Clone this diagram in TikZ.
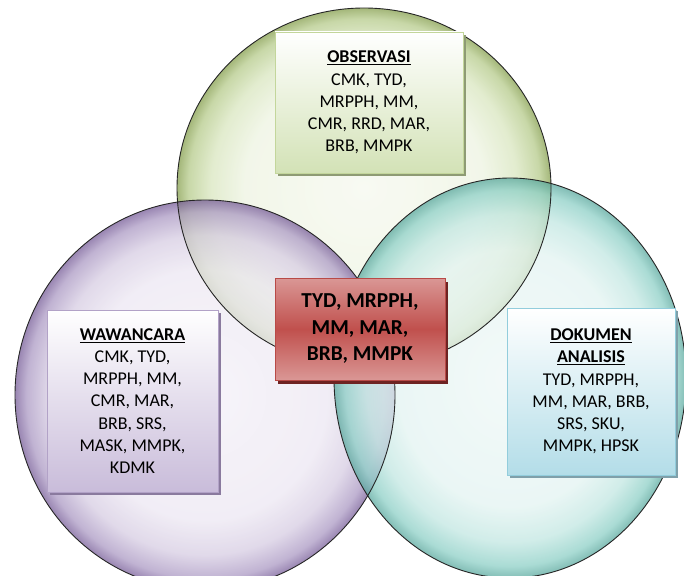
\documentclass[tikz,border=0pt]{standalone}
\usepackage{fontspec}
\setmainfont{Carlito}
\usetikzlibrary{shadows}
% circle colours
\definecolor{gc0}{HTML}{F6F9EF}
\definecolor{gc1}{HTML}{EEF4E2}
\definecolor{gc2}{HTML}{D9E6BF}
\definecolor{gc3}{HTML}{B6CB8B}
\definecolor{gc4}{HTML}{869F4E}
\definecolor{pc0}{HTML}{F4F1F8}
\definecolor{pc1}{HTML}{EDE8F3}
\definecolor{pc2}{HTML}{D7CDE3}
\definecolor{pc3}{HTML}{AC9AC4}
\definecolor{pc4}{HTML}{785E99}
\definecolor{tc0}{HTML}{EFF8F7}
\definecolor{tc1}{HTML}{E4F4F2}
\definecolor{tc2}{HTML}{C2E7E2}
\definecolor{tc3}{HTML}{8ED0C7}
\definecolor{tc4}{HTML}{5AA89E}
% box colours
\definecolor{obsbot}{HTML}{D3E2B6}
\definecolor{obsline}{HTML}{C3D69B}
\definecolor{obsshadow}{HTML}{8E9B74}
\definecolor{wawbot}{HTML}{C9BCDA}
\definecolor{wawline}{HTML}{B2A2C7}
\definecolor{wawshadow}{HTML}{8A7A9E}
\definecolor{dokbot}{HTML}{B3DDE8}
\definecolor{dokline}{HTML}{92CDDC}
\definecolor{dokshadow}{HTML}{7FA0AA}
\definecolor{redlight}{HTML}{DA9795}
\definecolor{reddark}{HTML}{C0504D}
\definecolor{redline}{HTML}{B84A47}
\definecolor{redshadow}{HTML}{6E2322}
\pgfdeclareradialshading{gshade}{\pgfpointorigin}{color(0bp)=(gc0); color(16bp)=(gc1); color(20.5bp)=(gc2); color(23.5bp)=(gc3); color(25bp)=(gc4); color(50bp)=(gc4)}
\pgfdeclareradialshading{pshade}{\pgfpointorigin}{color(0bp)=(pc0); color(16bp)=(pc1); color(20.5bp)=(pc2); color(23.5bp)=(pc3); color(25bp)=(pc4); color(50bp)=(pc4)}
\pgfdeclareradialshading{tshade}{\pgfpointorigin}{color(0bp)=(tc0); color(16bp)=(tc1); color(20.5bp)=(tc2); color(23.5bp)=(tc3); color(25bp)=(tc4); color(50bp)=(tc4)}
\tikzset{
  bubble/.style={fill opacity=0.75},
  rim/.style={draw=black!85, line width=0.9pt},
  listbox/.style={draw=#1line, line width=0.9pt, top color=white, bottom color=#1bot,
    general shadow={fill=#1shadow, shadow xshift=2.5pt, shadow yshift=-3pt},
    align=center, inner sep=0pt, font=\fontsize{18}{22.2}\selectfont},
  corebox/.style={draw=redline, line width=1pt, top color=redlight, bottom color=redlight,
    middle color=reddark,
    general shadow={fill=redshadow, shadow xshift=3pt, shadow yshift=-4pt},
    align=center, inner sep=0pt, font=\fontsize{21.3}{26.5}\selectfont\bfseries}
}
\begin{document}
\begin{tikzpicture}[x=1pt,y=-1pt]
\useasboundingbox (0,0) rectangle (684,575);
\clip (0,0) rectangle (684,575);
\fill[white] (0,0) rectangle (684,575);
% circles
\shade[shading=gshade, bubble] (364,188) ellipse [x radius=187pt, y radius=180pt];
\shade[shading=pshade, bubble] (205,395) ellipse [x radius=190pt, y radius=195pt];
\shade[shading=tshade, bubble] (510,378) ellipse [x radius=176pt, y radius=200pt];
\draw[rim] (364,188) ellipse [x radius=187pt, y radius=180pt];
\draw[rim] (205,395) ellipse [x radius=190pt, y radius=195pt];
\draw[rim] (510,378) ellipse [x radius=176pt, y radius=200pt];
% boxes
\node[listbox=obs, minimum width=188pt, minimum height=141pt] (obs) at (369,102.5)
  {\underline{\textbf{OBSERVASI}}\\CMK, TYD,\\MRPPH, MM,\\CMR, RRD, MAR,\\BRB, MMPK};
\node[listbox=waw, minimum width=171pt, minimum height=182pt] (waw) at (132.5,401)
  {\underline{\textbf{WAWANCARA}}\\CMK, TYD,\\MRPPH, MM,\\CMR, MAR,\\BRB, SRS,\\MASK, MMPK,\\KDMK};
\node[listbox=dok, minimum width=168pt, minimum height=167pt] (dok) at (591,391.5)
  {\underline{\textbf{DOKUMEN}}\\\underline{\textbf{ANALISIS}}\\TYD, MRPPH,\\MM, MAR, BRB,\\SRS, SKU,\\MMPK, HPSK};
\node[corebox, minimum width=170pt, minimum height=102pt] (core) at (360,329)
  {TYD, MRPPH,\\MM, MAR,\\BRB, MMPK};
\end{tikzpicture}
\end{document}
